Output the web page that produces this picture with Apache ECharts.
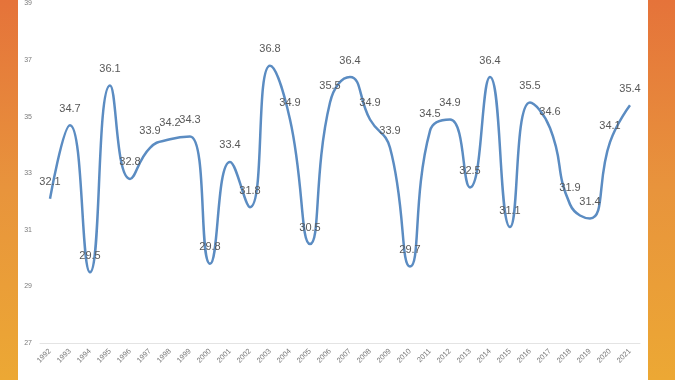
<!DOCTYPE html>
<html><head><meta charset="utf-8">
<script src="https://cdn.jsdelivr.net/npm/echarts@6/dist/echarts.min.js"></script>
<style>html,body{margin:0;padding:0;}#c{width:675px;height:380px;}</style>
</head><body><div id="c"></div>
<script>
const years = ['1992','1993','1994','1995','1996','1997','1998','1999','2000','2001','2002','2003','2004','2005','2006','2007','2008','2009','2010','2011','2012','2013','2014','2015','2016','2017','2018','2019','2020','2021'];
const values = [32.1,34.7,29.5,36.1,32.8,33.9,34.2,34.3,29.8,33.4,31.8,36.8,34.9,30.5,35.5,36.4,34.9,33.9,29.7,34.5,34.9,32.5,36.4,31.1,35.5,34.6,31.9,31.4,34.1,35.4];
const yTicks = [27,29,31,33,35,37,39];

const chart = echarts.init(document.getElementById('c'));
chart.setOption({
  animation: false,
  backgroundColor: new echarts.graphic.LinearGradient(0,0,0,1,[
    {offset:0,color:'#E5733A'},{offset:0.5,color:'#E8943C'},{offset:1,color:'#ECA834'}]),
  graphic: [{type:'rect', z:-1, shape:{x:18,y:0,width:630,height:380}, style:{fill:'#ffffff'}}],
  grid: {left:40, right:35, top:2, bottom:37},
  xAxis: {
    type:'category', data: years, boundaryGap:true,
    axisLine:{show:true, lineStyle:{color:'#e4e4e4'}},
    axisTick:{show:false},
    axisLabel:{rotate:45, fontSize:7.5, color:'#7a7a7a', margin:7, interval:0, fontFamily:'Liberation Sans'}
  },
  yAxis: {
    type:'value', min:27, max:39, interval:2,
    axisLine:{show:false}, axisTick:{show:false},
    splitLine:{show:false},
    axisLabel:{fontSize:7, color:'#7a7a7a', margin:8, fontFamily:'Liberation Sans',
      formatter:v=> yTicks.includes(v)? String(v):''}
  },
  series: [{
    type:'line', data: values, smooth:0.5, showSymbol:true, showAllSymbol:true, symbol:'circle', symbolSize:2,
    itemStyle:{color:'rgba(91,140,194,0)', borderWidth:0},
    lineStyle:{color:'#5B8CC2', width:2.5},
    label:{show:true, position:'top', fontSize:11, color:'#595959', distance:10, fontFamily:'Liberation Sans'},
    labelLayout:{hideOverlap:false}
  }]
});
</script></body></html>
